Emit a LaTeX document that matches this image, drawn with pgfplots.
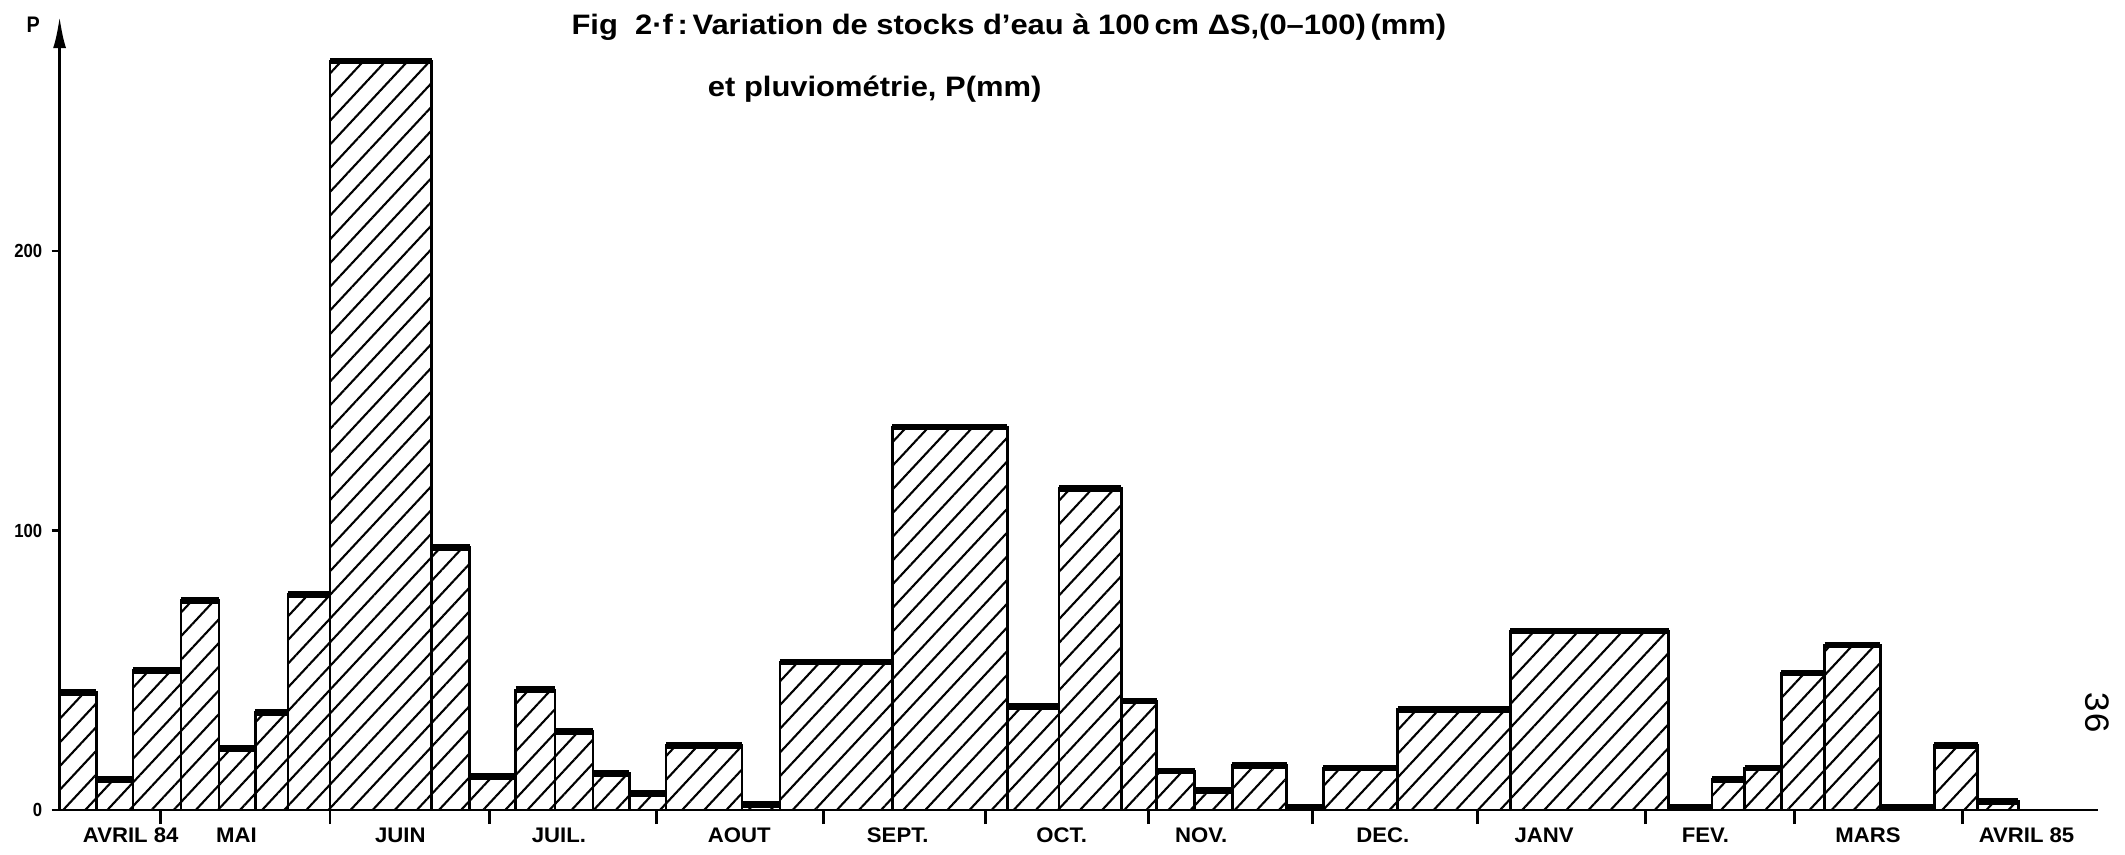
\documentclass[border=0pt]{standalone}
\usepackage{fontspec}
\setmainfont{Liberation Sans}
\newfontfamily\lab{Liberation Sans}[FakeStretch=0.88]
\newfontfamily\labw{Liberation Sans}[FakeStretch=1.05]
\newfontfamily\tit{Liberation Sans}[FakeStretch=1.1]
\newfontfamily\mono{Liberation Mono}
\usepackage{pgfplots}
\pgfplotsset{compat=1.18}
\usepackage{pgfplotstable}
\usetikzlibrary{patterns.meta,arrows.meta}

% left edge of each period (x, arbitrary time units) and rainfall P (mm)
\pgfplotstableread{
x y
44.5 42
71.5 11
98.8 50
134 75
162 22
189 35
213 77
244 268
319 94
347 12
381 43
410 28
438 13
465 6
492 23
548 2
576 53
659 137
744 37
782 115
828 39
854 14
882 7
910 16
950 1
977 15
1032 36
1115 64
1232 1
1264 11
1288 15
1315 49
1347 59
1388 1
1428 23
1460 3
1490 0
}\bars

\begin{document}
\begin{tikzpicture}
\useasboundingbox (-5.96mm,-4.4mm) rectangle (206.54mm,81.0mm);
\begin{axis}[
  at={(0,0)}, anchor=south west,
  x=0.13552mm, y=0.2795mm,
  xmin=44.5, xmax=1549, ymin=0, ymax=284,
  axis x line=bottom, axis y line=left,
  clip=false,
  x axis line style={-, line width=0.85pt},
  y axis line style={-{Latex[length=3.2mm,width=1.3mm]}, line width=0.85pt},
  tick align=outside,
  ytick={0,100,200},
  major tick length=0.8mm,
  minor tick length=1.4mm,
  tick style={black, line width=0.8pt},
  major x tick style={draw=none},
  minor xtick={119,244,362,485,608,728,848,969,1091,1215,1325,1449},
  xtick={97,175,296,413,546,663,784,887,1021,1140,1259,1379,1496},
  xticklabels={AVRIL 84,MAI,JUIN,JUIL.,AOUT,SEPT.,OCT.,NOV.,DEC.,JANV,FEV.,MARS,AVRIL 85},
  xticklabel style={font=\labw\bfseries\fontsize{6}{7}\selectfont, anchor=center, yshift=-1.7mm},
  yticklabel style={font=\lab\bfseries\fontsize{5.4}{6}\selectfont, xshift=0.3mm},
  /pgf/number format/assume math mode=true,
]
\addplot[ybar interval, draw=black, line width=0.75pt,
  pattern={Lines[angle=47,distance=4.6pt,line width=0.6pt]}] table {\bars};
\addplot[jump mark left, line width=1.9pt, black] table {\bars};

\node[font=\tit\bfseries\fontsize{8}{9}\selectfont] at (axis cs:745,280)
  {Fig\ \ 2·f\,:\,Variation de stocks d’eau à 100\,cm ΔS,(0–100)\,(mm)};
\node[font=\tit\bfseries\fontsize{8}{9}\selectfont] at (axis cs:646,258)
  {et pluviométrie, P(mm)};
\node[font=\lab\bfseries\fontsize{6.4}{7}\selectfont] at (axis cs:25,281) {P};
\node[font=\mono\fontsize{10}{12}\selectfont, rotate=-90] at (axis cs:1548,35) {36};
\end{axis}
\end{tikzpicture}
\end{document}
